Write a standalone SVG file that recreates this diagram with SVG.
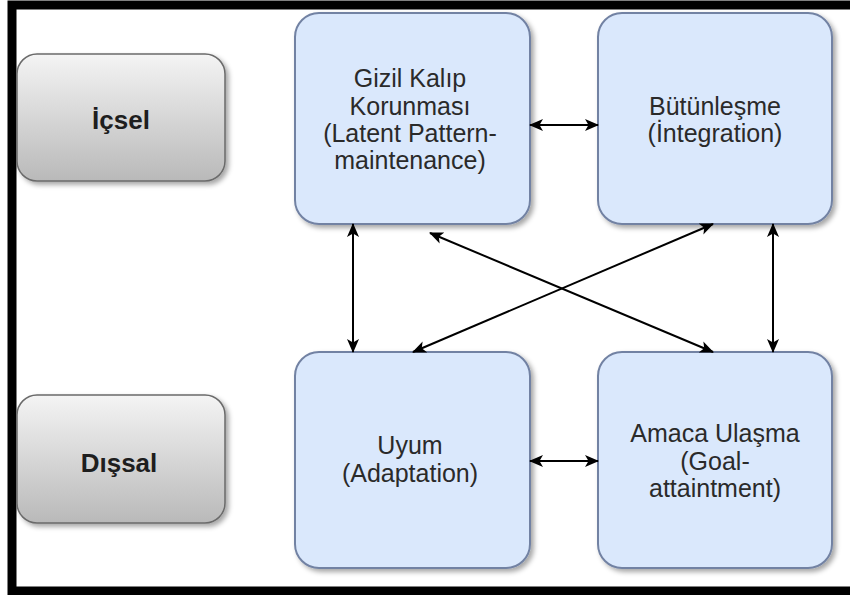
<svg xmlns="http://www.w3.org/2000/svg" width="850" height="595" viewBox="0 0 850 595">
<defs>
<linearGradient id="gray" x1="0" y1="0" x2="0" y2="1">
<stop offset="0" stop-color="#f4f4f4"/>
<stop offset="1" stop-color="#b9b9b9"/>
</linearGradient>
<filter id="sh" x="-10%" y="-10%" width="125%" height="125%">
<feDropShadow dx="3" dy="3" stdDeviation="2.5" flood-color="#000" flood-opacity="0.35"/>
</filter>
<marker id="ah" viewBox="0 0 14 12" refX="13" refY="6" markerWidth="14" markerHeight="12" markerUnits="userSpaceOnUse" orient="auto-start-reverse">
<path d="M0,0 L14,6 L0,12 L3.5,6 Z" fill="#000"/>
</marker>
<style>
.gbox{fill:url(#gray);stroke:#6a6a6a;stroke-width:1.5;filter:url(#sh)}
.bbox{fill:#dae8fc;stroke:#7282a3;stroke-width:2;filter:url(#sh)}
.lbl{font-family:"Liberation Sans",Arial,sans-serif;font-size:25px;fill:#2a2a2a;text-anchor:middle}
.bold{font-weight:bold;font-size:26px;fill:#1e1e1e}
.conn line{stroke:#000;stroke-width:2;marker-start:url(#ah);marker-end:url(#ah)}
</style>
</defs>
<rect x="0" y="0" width="850" height="595" fill="#fff"/>
<rect x="12" y="5" width="846" height="586" fill="none" stroke="#000" stroke-width="9"/>

<g id="icsel">
<rect class="gbox" x="17" y="54" width="208" height="127" rx="20"/>
<text class="lbl bold" x="121" y="129">İçsel</text>
</g>
<g id="dissal">
<rect class="gbox" x="17" y="395" width="208" height="128" rx="20"/>
<text class="lbl bold" x="119" y="472">Dışsal</text>
</g>

<g id="gizil">
<rect class="bbox" x="295" y="13" width="235" height="211" rx="24"/>
<text class="lbl" x="410" y="87">Gizil Kalıp</text>
<text class="lbl" x="410" y="115">Korunması</text>
<text class="lbl" x="410" y="142">(Latent Pattern-</text>
<text class="lbl" x="410" y="169">maintenance)</text>
</g>
<g id="butunlesme">
<rect class="bbox" x="598" y="13" width="234" height="211" rx="24"/>
<text class="lbl" x="715" y="115">Bütünleşme</text>
<text class="lbl" x="715" y="142">(İntegration)</text>
</g>
<g id="uyum">
<rect class="bbox" x="295" y="352" width="235" height="216" rx="24"/>
<text class="lbl" x="410" y="454">Uyum</text>
<text class="lbl" x="410" y="482">(Adaptation)</text>
</g>
<g id="amaca">
<rect class="bbox" x="598" y="352" width="234" height="216" rx="24"/>
<text class="lbl" x="715" y="442">Amaca Ulaşma</text>
<text class="lbl" x="715" y="470">(Goal-</text>
<text class="lbl" x="715" y="497">attaintment)</text>
</g>

<g id="connectors" class="conn">
<line x1="530" y1="125" x2="598" y2="125"/>
<line x1="530" y1="461" x2="598" y2="461"/>
<line x1="353" y1="224" x2="353" y2="352"/>
<line x1="773" y1="224" x2="773" y2="352"/>
<line x1="430" y1="233" x2="713" y2="352"/>
<line x1="713" y1="224" x2="413" y2="352"/>
</g>
</svg>
